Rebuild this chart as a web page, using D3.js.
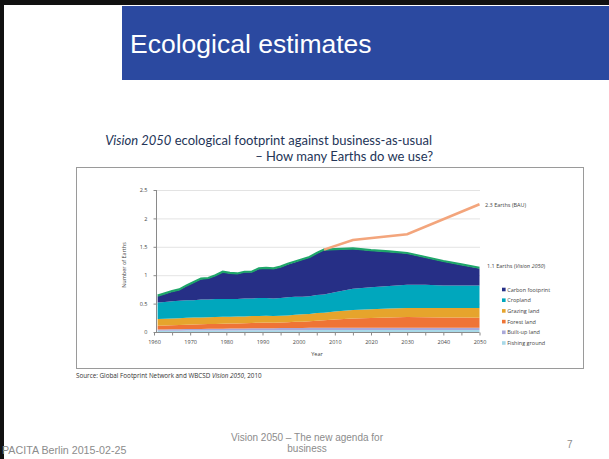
<!DOCTYPE html>
<html>
<head>
<meta charset="utf-8">
<script src="https://cdn.jsdelivr.net/npm/d3@7"></script>
<style>
  body { margin: 0; background: #fff; }
  svg { display: block; }
</style>
</head>
<body>
<svg id="slide"></svg>
<script>
const width = 609, height = 459;

// data (Number of Earths)
const years = [1961, 1963, 1965, 1967, 1969, 1971, 1973, 1975, 1977, 1979, 1981, 1983, 1985, 1987, 1989, 1991,
  1993, 1995, 1997, 1999, 2001, 2003, 2005, 2007, 2010, 2015, 2020, 2025, 2030, 2035, 2040, 2045, 2050];
const fishingGround = [0.020, 0.020, 0.022, 0.022, 0.025, 0.025, 0.025, 0.026, 0.027, 0.027, 0.028, 0.028, 0.029, 0.030, 0.030, 0.030,
  0.031, 0.032, 0.032, 0.033, 0.033, 0.034, 0.034, 0.035, 0.035, 0.035, 0.035, 0.035, 0.035, 0.035, 0.035, 0.035, 0.035];
const builtUpLand = [0.024, 0.025, 0.026, 0.027, 0.028, 0.029, 0.030, 0.030, 0.031, 0.032, 0.032, 0.033, 0.034, 0.035, 0.035, 0.036,
  0.036, 0.037, 0.037, 0.038, 0.038, 0.039, 0.040, 0.040, 0.040, 0.042, 0.042, 0.042, 0.042, 0.042, 0.042, 0.042, 0.042];
const forestLand = [0.065, 0.068, 0.070, 0.073, 0.076, 0.080, 0.082, 0.083, 0.085, 0.088, 0.088, 0.090, 0.092, 0.095, 0.098, 0.100,
  0.098, 0.100, 0.103, 0.108, 0.110, 0.115, 0.125, 0.130, 0.145, 0.160, 0.170, 0.178, 0.185, 0.183, 0.180, 0.178, 0.175];
const grazingLand = [0.12, 0.12, 0.12, 0.12, 0.12, 0.12, 0.12, 0.12, 0.12, 0.12, 0.12, 0.12, 0.12, 0.12, 0.12, 0.12,
  0.115, 0.115, 0.12, 0.125, 0.13, 0.13, 0.135, 0.135, 0.14, 0.15, 0.155, 0.158, 0.16, 0.163, 0.165, 0.168, 0.17];
const cropland = [0.291, 0.297, 0.302, 0.308, 0.311, 0.306, 0.313, 0.311, 0.317, 0.313, 0.312, 0.309, 0.315, 0.310, 0.317, 0.314,
  0.310, 0.316, 0.318, 0.316, 0.309, 0.312, 0.316, 0.320, 0.340, 0.373, 0.388, 0.397, 0.408, 0.407, 0.398, 0.397, 0.398];
const carbonFootprint = [0.11, 0.14, 0.17, 0.19, 0.25, 0.31, 0.36, 0.37, 0.41, 0.47, 0.45, 0.44, 0.46, 0.46, 0.51, 0.52,
  0.52, 0.54, 0.58, 0.61, 0.65, 0.68, 0.73, 0.78, 0.75, 0.70, 0.64, 0.60, 0.55, 0.48, 0.42, 0.36, 0.30];

const bauYears = [2007, 2015, 2030, 2050];
const bauValues = [1.45, 1.62, 1.72, 2.25];

const seriesNames = ["Carbon footprint", "Cropland", "Grazing land", "Forest land", "Built-up land", "Fishing ground"];
const seriesColors = ["#262f86", "#00a7bd", "#e6a42c", "#ef7436", "#aaa9d9", "#a8d9e8"];
const yTicks = [0, 0.5, 1, 1.5, 2, 2.5];
const xTicks = [1960, 1970, 1980, 1990, 2000, 2010, 2020, 2030, 2040, 2050];

const svg = d3.select("#slide").attr("width", width).attr("height", height);

////////////////////////////////////
//          Slide frame           //
////////////////////////////////////
svg.append("rect").attr("width", width).attr("height", height).attr("fill", "#fff");
svg.append("rect").attr("x", 0).attr("y", 0).attr("width", width).attr("height", 5).attr("fill", "#111");
svg.append("rect").attr("x", 0).attr("y", 0).attr("width", 4).attr("height", height).attr("fill", "#111");
svg.append("rect").attr("x", 122).attr("y", 6).attr("width", width - 122).attr("height", 74).attr("fill", "#2b49a0");
svg.append("text").attr("x", 130).attr("y", 53)
  .attr("font-family", "Liberation Sans, Arial, sans-serif").attr("font-size", 26.5)
  .attr("fill", "#fff").text("Ecological estimates");

// subtitle
const sub = svg.append("g").attr("font-family", "Lato, sans-serif").attr("font-size", 13)
  .attr("fill", "#243557").attr("text-anchor", "end");
const l1 = sub.append("text").attr("x", 432).attr("y", 145);
l1.append("tspan").attr("font-style", "italic").text("Vision 2050");
l1.append("tspan").text(" ecological footprint against business-as-usual");
sub.append("text").attr("x", 433).attr("y", 161).text("\u2013 How many Earths do we use?");

// chart box
svg.append("rect").attr("x", 76.5).attr("y", 167.5).attr("width", 507).attr("height", 201)
  .attr("fill", "#fff").attr("stroke", "#9a9a9a").attr("stroke-width", 1);

////////////////////////////////////
//          Scales & axes         //
////////////////////////////////////
const x = d3.scaleLinear().domain([1960, 2050]).range([154, 479.5]);
const y = d3.scaleLinear().domain([0, 2.5]).range([332, 190]);
const chartFont = "Open Sans, DejaVu Sans, sans-serif";

// gridlines
svg.append("g").selectAll("line").data(yTicks.filter(d => d > 0)).join("line")
  .attr("x1", 156).attr("x2", 480).attr("y1", d => y(d) + 0.5).attr("y2", d => y(d) + 0.5)
  .attr("stroke", "#dcdcdc").attr("stroke-width", 0.8);

const yAxis = svg.append("g").attr("transform", "translate(156.5,0)")
  .call(d3.axisLeft(y).tickValues(yTicks).tickSize(3).tickPadding(6).tickFormat(d3.format("")));
yAxis.select(".domain").attr("stroke", "#8a8a8a").attr("d", `M0,${y(0)}V${y(2.5)}`);
yAxis.selectAll(".tick line").attr("stroke", "#8a8a8a");
yAxis.selectAll("text").attr("font-family", chartFont).attr("font-size", 5.5).attr("fill", "#444");

svg.append("text").attr("transform", `translate(126,265) rotate(-90)`).attr("text-anchor", "middle")
  .attr("font-family", chartFont).attr("font-size", 5.5).attr("fill", "#444").text("Number of Earths");

////////////////////////////////////
//          Stacked areas         //
////////////////////////////////////
const table = years.map((yr, i) => ({
  year: yr,
  "Fishing ground": fishingGround[i],
  "Built-up land": builtUpLand[i],
  "Forest land": forestLand[i],
  "Grazing land": grazingLand[i],
  "Cropland": cropland[i],
  "Carbon footprint": carbonFootprint[i]
}));
const stackKeys = seriesNames.slice().reverse();
const stacked = d3.stack().keys(stackKeys)(table);
const colorOf = d3.scaleOrdinal().domain(seriesNames).range(seriesColors);

const area = d3.area().x(d => x(d.data.year)).y0(d => y(d[0])).y1(d => y(d[1]));
svg.append("g").selectAll("path").data(stacked).join("path")
  .attr("d", area).attr("fill", d => colorOf(d.key));

// green outline on top of the footprint
const topLine = d3.line().x(d => x(d.data.year)).y(d => y(d[1]) - 0.6);
svg.append("path").datum(stacked[stacked.length - 1]).attr("d", topLine)
  .attr("fill", "none").attr("stroke", "#1fa66a").attr("stroke-width", 2.2);

// BAU line
const bauLine = d3.line().x((d, i) => x(bauYears[i])).y(d => y(d));
svg.append("path").datum(bauValues).attr("d", bauLine)
  .attr("fill", "none").attr("stroke", "#f3a57c").attr("stroke-width", 2.6);

// x axis
const xAxis = svg.append("g").attr("transform", `translate(0,${y(0) + 0.5})`)
  .call(d3.axisBottom(x).tickValues(d3.range(1960, 2051, 5)).tickSize(3).tickPadding(5)
    .tickFormat(d => xTicks.includes(d) ? d : ""));
xAxis.select(".domain").attr("stroke", "#8a8a8a").attr("d", `M156,0H${x(2050)}`);
xAxis.selectAll(".tick line").attr("stroke", "#8a8a8a");
xAxis.selectAll("text").attr("font-family", chartFont).attr("font-size", 5.5).attr("fill", "#444");

svg.append("text").attr("x", 317).attr("y", 356).attr("text-anchor", "middle")
  .attr("font-family", chartFont).attr("font-size", 5.5).attr("fill", "#444").text("Year");

// end labels
svg.append("text").attr("x", 485).attr("y", 207)
  .attr("font-family", chartFont).attr("font-size", 5.5).attr("fill", "#444").text("2.3 Earths (BAU)");
const vl = svg.append("text").attr("x", 487).attr("y", 268)
  .attr("font-family", chartFont).attr("font-size", 5.5).attr("fill", "#444");
vl.append("tspan").text("1.1 Earths (");
vl.append("tspan").attr("font-style", "italic").text("Vision 2050");
vl.append("tspan").text(")");

// legend
const legend = svg.append("g").selectAll("g").data(seriesNames).join("g")
  .attr("transform", (d, i) => `translate(502,${289.5 + i * 10.7})`);
legend.append("rect").attr("x", 0).attr("y", -1.8).attr("width", 3.6).attr("height", 3.6)
  .attr("fill", d => colorOf(d));
legend.append("text").attr("x", 5.2).attr("y", 2).attr("font-family", chartFont)
  .attr("font-size", 5.5).attr("fill", "#444").text(d => d);

// source
const src = svg.append("text").attr("x", 76).attr("y", 378)
  .attr("font-family", chartFont).attr("font-size", 6.3).attr("fill", "#333");
src.append("tspan").text("Source: Global Footprint Network and WBCSD ");
src.append("tspan").attr("font-style", "italic").text("Vision 2050");
src.append("tspan").text(", 2010");

////////////////////////////////////
//             Footer             //
////////////////////////////////////
const footFont = "Liberation Sans, Arial, sans-serif";
svg.append("text").attr("x", 2).attr("y", 454).attr("font-family", footFont).attr("font-size", 10.7)
  .attr("fill", "#8c8c8c").text("PACITA Berlin 2015-02-25");
svg.append("text").attr("x", 307).attr("y", 441).attr("text-anchor", "middle").attr("font-family", footFont)
  .attr("font-size", 10).attr("fill", "#8c8c8c").text("Vision 2050 \u2013 The new agenda for");
svg.append("text").attr("x", 307).attr("y", 452).attr("text-anchor", "middle").attr("font-family", footFont)
  .attr("font-size", 10).attr("fill", "#8c8c8c").text("business");
svg.append("text").attr("x", 567).attr("y", 448).attr("font-family", footFont).attr("font-size", 10)
  .attr("fill", "#8c8c8c").text("7");
</script>
</body>
</html>
